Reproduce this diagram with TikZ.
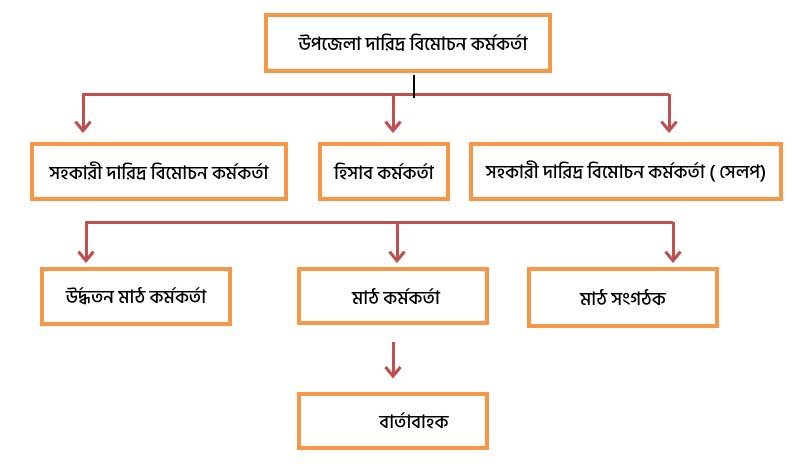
\documentclass[tikz,border=0pt]{standalone}
\usepackage{fontspec}
\newfontfamily\bn[Script=Bengali, UprightFont={* Medium}]{Hind Siliguri}
\usetikzlibrary{arrows.meta}
\definecolor{boxorange}{HTML}{F79646}
\definecolor{arrowred}{HTML}{C0504D}
\begin{document}
\begin{tikzpicture}[x=1pt,y=-1pt,
  box/.style={draw=boxorange, line width=3.2pt, fill=white, inner sep=0pt, font=\bn\fontsize{18.5}{22}\selectfont},
  arr/.style={draw=arrowred, line width=3pt, -{Straight Barb[length=9pt,width=15pt]}},
  stem/.style={draw=black, line width=2pt}]
\useasboundingbox[fill=white] (0,0) rectangle (808,469);
% boxes
\node[box, minimum width=284pt, minimum height=56pt] (top) at (408,43) {\hspace*{10pt}উপজেলা দারিদ্র বিমোচন কর্মকর্তা};
\node[box, minimum width=254pt, minimum height=55pt] (r2a) at (159,171.5) {সহকারী দারিদ্র বিমোচন কর্মকর্তা};
\node[box, minimum width=128pt, minimum height=55pt] (r2b) at (384,171.5) {হিসাব কর্মকর্তা};
\node[box, minimum width=310pt, minimum height=55pt] (r2c) at (626,171.5) {সহকারী দারিদ্র বিমোচন কর্মকর্তা ( সেলপ)};
\node[box, minimum width=188pt, minimum height=55pt] (r3a) at (136,296.5) {উর্দ্ধতন মাঠ কর্মকর্তা};
\node[box, minimum width=188pt, minimum height=54pt] (r3b) at (393,296) {\hspace*{6pt}মাঠ কর্মকর্তা};
\node[box, line width=4.5pt, minimum width=188pt, minimum height=57pt] (r3c) at (623,297.5) {মাঠ সংগঠক};
\node[box, minimum width=188pt, minimum height=54pt] (msg) at (393,421) {\hspace*{42pt}বার্তাবাহক};
% first bus
\coordinate (k1) at (414,75);
\coordinate (j1) at (414,98);
\coordinate (b1l) at (83,94);
\coordinate (b1m) at (393,94);
\coordinate (b1r) at (669,94);
\coordinate (t1a) at (83,133);
\coordinate (t1b) at (393,133);
\coordinate (t1c) at (669,133);
\draw[arr] (b1r) -- (b1l) -- (t1a);
\draw[arr] (b1r) -- (t1c);
\draw[arr] (b1m) -- (t1b);
\draw[stem] (k1) -- (j1);
% second bus
\coordinate (b2l) at (86,222);
\coordinate (b2m) at (397,222);
\coordinate (b2r) at (673,222);
\coordinate (t2a) at (86,263);
\coordinate (t2b) at (397,263);
\coordinate (t2c) at (673,263);
\draw[arr] (b2r) -- (b2l) -- (t2a);
\draw[arr] (b2r) -- (t2c);
\draw[arr] (b2m) -- (t2b);
% last arrow
\draw[arr] ([yshift=-17pt]r3b.south) -- ([yshift=14pt]msg.north);
\end{tikzpicture}
\end{document}
